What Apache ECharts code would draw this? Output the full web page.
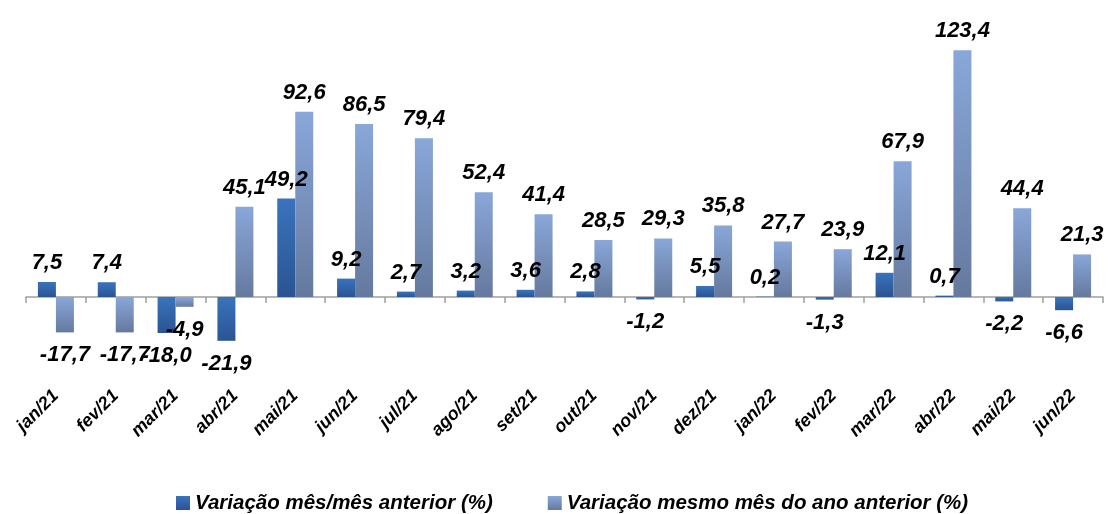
<!DOCTYPE html>
<html><head><meta charset="utf-8">
<script src="https://cdn.jsdelivr.net/npm/echarts@6/dist/echarts.min.js"></script>
<style>html,body{margin:0;padding:0;background:#fff}#c{width:1115px;height:514px}</style>
</head><body><div id="c"></div>
<script>
const categories = ['jan/21','fev/21','mar/21','abr/21','mai/21','jun/21','jul/21','ago/21','set/21','out/21','nov/21','dez/21','jan/22','fev/22','mar/22','abr/22','mai/22','jun/22'];
const seriesMoM = [7.5,7.4,-18.0,-21.9,49.2,9.2,2.7,3.2,3.6,2.8,-1.2,5.5,0.2,-1.3,12.1,0.7,-2.2,-6.6];
const seriesYoY = [-17.7,-17.7,-4.9,45.1,92.6,86.5,79.4,52.4,41.4,28.5,29.3,35.8,27.7,23.9,67.9,123.4,44.4,21.3];
const seriesNames = ['Variação mês/mês anterior (%)','Variação mesmo mês do ano anterior (%)'];

const FONT = '"Liberation Sans",Arial,sans-serif';
const grad = (a,b)=>new echarts.graphic.LinearGradient(0,0,0,1,[{offset:0,color:a},{offset:1,color:b}]);
const darkGrad = grad('#3a73bd','#2a5492');
const lightGrad = grad('#89a7d9','#65799e');
const fmt = v => v.toFixed(1).replace('.', ',');
function mk(vals){
  return vals.map(v=>({value:v,label:{position: v>=0?'top':'bottom', distance: v>=0?8:12}}));
}
const labelStyle = {show:true,color:'#000',fontFamily:FONT,fontWeight:'bold',fontStyle:'italic',fontSize:22,
  formatter:p=>fmt(p.value)};
const chart = echarts.init(document.getElementById('c'),null,{renderer:'canvas'});
chart.setOption({
  animation:false,
  grid:{left:26,right:12,top:17,height:360},
  legend:{bottom:1,left:171,padding:[0,5],itemWidth:14,itemHeight:14,itemGap:55,icon:'rect',
    textStyle:{fontFamily:FONT,fontWeight:'bold',fontStyle:'italic',fontSize:20.5,color:'#000'},
    data:[{name:seriesNames[0],itemStyle:{color:darkGrad}},{name:seriesNames[1],itemStyle:{color:lightGrad}}]},
  xAxis:[
    {type:'category',data:categories,axisLine:{onZero:true,lineStyle:{color:'#a0a0a0',width:1.5}},
     axisTick:{show:true,length:6,lineStyle:{color:'#a0a0a0',width:1.5}},axisLabel:{show:false}},
    {type:'category',data:categories,position:'bottom',axisLine:{show:false,onZero:false},axisTick:{show:false},
     axisLabel:{rotate:45,margin:16,color:'#000',fontFamily:FONT,fontWeight:'bold',fontStyle:'italic',fontSize:18}}
  ],
  yAxis:{type:'value',min:-40,max:140,show:false,splitLine:{show:false}},
  series:[
    {name:seriesNames[0],type:'bar',data:mk(seriesMoM),barWidth:18,barGap:'0%',itemStyle:{color:darkGrad},label:labelStyle},
    {name:seriesNames[1],type:'bar',data:mk(seriesYoY),barWidth:18,barGap:'0%',itemStyle:{color:lightGrad},label:labelStyle}
  ]
});
</script></body></html>
